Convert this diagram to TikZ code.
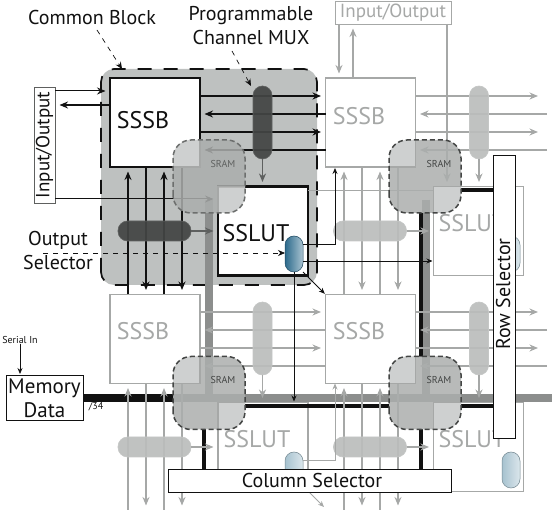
\documentclass[tikz,border=0pt]{standalone}
\usepackage{fontspec}
\setmainfont{PT Sans}
\usepackage{xcolor}
\usetikzlibrary{arrows.meta,positioning,calc}
\definecolor{tinta}{HTML}{111111}
\definecolor{gris}{HTML}{A6A8A7}
\definecolor{grisbus}{HTML}{8C8E8D}
\definecolor{fondo}{HTML}{BEC1C0}
\definecolor{memoria}{HTML}{ABAEAD}
\definecolor{oscuro}{HTML}{434544}
\definecolor{medio}{HTML}{5E605F}
\definecolor{claro}{HTML}{BBBDBC}
\definecolor{azuloscuro}{HTML}{2C6A8C}
\definecolor{azulclaro}{HTML}{A6C2CF}
\begin{document}
\begin{tikzpicture}[x=1pt,y=-1pt,inner sep=0pt,outer sep=0pt,
  bloque/.style={draw=#1,fill=white,line width=1.7pt,minimum width=90pt,minimum height=89pt},
  sram/.style={fill=memoria,fill opacity=.85,rounded corners=18pt,minimum width=72pt,minimum height=73pt},
  borde/.style={draw=#1,line width=1.5pt,dash pattern=on 5pt off 3pt,rounded corners=18pt},
  esquina/.style={fill=white,fill opacity=.33,draw=gris,line width=1.5pt},
  pastilla/.style={fill=#1,draw=#1!85!white,line width=.6pt,fill opacity=.93,minimum width=19pt,minimum height=73pt,rounded corners=9.5pt},
  pastillah/.style={fill=#1,draw=#1!85!white,line width=.6pt,fill opacity=.93,minimum width=73pt,minimum height=20pt,rounded corners=9.5pt},
  azul/.style={draw=#1!70!black,left color=#1,right color=#1!40!white,minimum width=18pt,minimum height=36pt,rounded corners=9pt,line width=.5pt},
  caja/.style={draw=tinta,fill=white,line width=.9pt},
  flecha/.style={-{Stealth[length=8.5pt,width=7pt]},line width=1.5pt,#1,shorten >=4.5pt},
  flecha/.default=tinta,
  fina/.style={-{Stealth[length=6pt,width=5pt]},line width=.8pt,tinta,shorten >=1pt},
  rayas/.style={-{Stealth[length=7pt,width=6pt]},line width=.7pt,tinta,dash pattern=on 5pt off 5pt},
  bus/.style={line width=7.5pt,#1},
  txtg/.style={font=\fontsize{24}{26}\selectfont,text=#1},
  txtm/.style={font=\fontsize{20}{24}\selectfont,text=#1,align=center},
  txtm/.default=tinta,
  txts/.style={font=\fontsize{10}{12}\selectfont,text=#1},
  txts/.default=tinta]
\useasboundingbox (0,0) rectangle (552,510);
% filas y columnas de los canales
\coordinate (f1) at (0,96); \coordinate (f2) at (0,114); \coordinate (f3) at (0,132); \coordinate (f4) at (0,150);
\coordinate (f5) at (0,312); \coordinate (f6) at (0,330); \coordinate (f7) at (0,348); \coordinate (f8) at (0,366);
\coordinate (c1) at (128,0); \coordinate (c2) at (146,0); \coordinate (c3) at (164,0); \coordinate (c4) at (182,0);
\coordinate (c5) at (344,0); \coordinate (c6) at (362,0); \coordinate (c7) at (380,0); \coordinate (c8) at (398,0);
\coordinate (fin) at (542.5,510); \coordinate (finf) at (547,510);
\coordinate (dsal) at (43,253); \coordinate (sal1) at (335,244); \coordinate (sal2) at (335,460);
\coordinate (dg1) at (309,492); \coordinate (dg2) at (324,507);
\coordinate (bfin) at (552,398);
% bloque comun
\node[fill=fondo,rounded corners=13pt,minimum width=216pt,minimum height=216pt] (comun) at (209,177) {};
\draw[line width=1.7pt,tinta,dash pattern=on 14pt off 12pt,rounded corners=13pt] (comun.south west) rectangle (comun.north east);
% cajas
\node[bloque=tinta,line width=2pt] (b1) at (155,122.5) {};
\node[bloque=gris] (b2) at (370.5,122.5) {};
\node[bloque=gris] (b3) at (155,339) {};
\node[bloque=gris] (b4) at (370.5,339) {};
\node[bloque=tinta,line width=2.2pt] (l1) at (263,231) {};
\node[bloque=gris] (l2) at (478.5,231) {};
\node[bloque=gris] (l3) at (263,447) {};
\node[bloque=gris] (l4) at (478.5,447) {};
\node[txtg=tinta] (tb1) at (143,120) {SSSB};
\node[txtg=gris] (tb2) at (359,116) {SSSB};
\node[txtg=gris] (tb3) at (143,331) {SSSB};
\node[txtg=gris] (tb4) at (359,331) {SSSB};
\node[txtg=tinta] (tl1) at (256,233) {SSLUT};
\node[txtg=gris] (tl2) at (472,223) {SSLUT};
\node[txtg=gris] (tl3) at (257,439) {SSLUT};
\node[txtg=gris] (tl4) at (472,439) {SSLUT};
% buses
\node[caja] (mem) at (44.5,397.5) [minimum width=77pt,minimum height=45pt] {};
\node[caja] (es1) at (44.5,145) [minimum width=21pt,minimum height=116pt,draw=medio] {};
\node[caja,draw=gris] (es2) at (393,12.5) [minimum width=116pt,minimum height=23pt] {};
\draw[bus=tinta] (mem.east |- bfin) -- (173,398);
\draw[bus=grisbus] (173,398) -- (bfin);
\draw[bus=grisbus] (209,200) -- (209,398);
\draw[bus=grisbus] (426,200) -- (426,398);
\draw[line width=3.6pt,tinta] (421,213) -- (421,357);
\draw[line width=3.6pt,tinta] (421,429) -- (421,469);
\draw[line width=3.6pt,tinta] (204,429) -- (204,469);
\draw[line width=3.6pt,tinta] (461,190) -- (493,190);
\draw[line width=3.6pt,tinta] (245,406) -- (389,406);
\draw[line width=3.6pt,tinta] (461,406) -- (493,406);
\draw[line width=1pt,gris] (l1.east |- 0,191) -- (l2.west |- 0,191);
% canales horizontales
\draw[flecha] (b1.east |- f1) -- (b2.west |- f1);
\draw[flecha] (b2.west |- f2) -- (b1.east |- f2);
\draw[flecha] (b1.east |- f3) -- (b2.west |- f3);
\draw[flecha] (b2.west |- f4) -- (b1.east |- f4);
\draw[flecha=gris] (b2.east |- f1) -- (fin |- f1);
\draw[flecha=gris] (finf |- f2) -- (b2.east |- f2);
\draw[flecha=gris] (b2.east |- f3) -- (fin |- f3);
\draw[flecha=gris] (finf |- f4) -- (b2.east |- f4);
\draw[flecha=gris] (b3.east |- f5) -- (b4.west |- f5);
\draw[flecha=gris] (b4.west |- f6) -- (b3.east |- f6);
\draw[flecha=gris] (b3.east |- f7) -- (b4.west |- f7);
\draw[flecha=gris] (b4.west |- f8) -- (b3.east |- f8);
\draw[flecha=gris] (b4.east |- f5) -- (fin |- f5);
\draw[flecha=gris] (finf |- f6) -- (b4.east |- f6);
\draw[flecha=gris] (b4.east |- f7) -- (fin |- f7);
\draw[flecha=gris] (finf |- f8) -- (b4.east |- f8);
% canales verticales
\draw[flecha] (b3.north -| c1) -- (b1.south -| c1);
\draw[flecha] (b1.south -| c2) -- (b3.north -| c2);
\draw[flecha] (b3.north -| c3) -- (b1.south -| c3);
\draw[flecha] (b1.south -| c4) -- (b3.north -| c4);
\draw[flecha=gris] (b4.north -| c5) -- (b2.south -| c5);
\draw[flecha=gris] (b2.south -| c6) -- (b4.north -| c6);
\draw[flecha=gris] (b4.north -| c7) -- (b2.south -| c7);
\draw[flecha=gris] (b2.south -| c8) -- (b4.north -| c8);
\draw[flecha=gris] (c1 |- fin) -- (b3.south -| c1);
\draw[flecha=gris] (b3.south -| c2) -- (c2 |- fin);
\draw[flecha=gris] (c3 |- fin) -- (b3.south -| c3);
\draw[flecha=gris] (b3.south -| c4) -- (c4 |- fin);
\draw[flecha=gris] (c5 |- fin) -- (b4.south -| c5);
\draw[flecha=gris] (b4.south -| c6) -- (c6 |- fin);
\draw[flecha=gris] (c7 |- fin) -- (b4.south -| c7);
\draw[flecha=gris] (b4.south -| c8) -- (c8 |- fin);
% entradas y salidas
\draw[flecha,line width=1pt] (es1.east |- 0,91) -- (b1.west |- 0,91);
\draw[flecha] (b1.west |- 0,105) -- (es1.east |- 0,105);
\draw[flecha,line width=1pt] (es1.east |- 0,199) -- (l1.west |- 0,199);
\draw[flecha=gris] (es2.south -| 339,0) -- (b2.north -| 339,0);
\draw[flecha=gris] (b2.north -| 353,0) -- (es2.south -| 353,0);
\draw[flecha=gris] (es2.south -| 447,0) -- (l2.north -| 447,0);
% pastillas
\node[pastilla=oscuro] (m1) at (262.5,122.5) {};
\node[pastilla=claro] (m2) at (479,122.5) {};
\node[pastilla=claro] (m3) at (262.5,338.5) {};
\node[pastilla=claro] (m4) at (479,338.5) {};
\node[pastillah=oscuro] (o1) at (154.5,231) {};
\node[pastillah=claro] (o2) at (370,231) {};
\node[pastillah=claro] (o3) at (154.5,447) {};
\node[pastillah=claro] (o4) at (370,447) {};
\draw[flecha=medio] (m1.south) -- (l1.north -| m1.south);
\draw[flecha=gris] (m2.south) -- (l2.north -| m2.south);
\draw[flecha=gris] (m3.south) -- (l3.north -| m3.south);
\draw[flecha=gris] (m4.south) -- (l4.north -| m4.south);
\draw[flecha=medio] (o1.east) -- (l1.west |- o1.east);
\draw[flecha=gris] (o2.east) -- (l2.west |- o2.east);
\draw[flecha=gris] (o3.east) -- (l3.west |- o3.east);
\draw[flecha=gris] (o4.east) -- (l4.west |- o4.east);
\node[azul=azuloscuro] (p1) at (294,254) {};
\node[azul=azulclaro] (p2) at (511,254) {};
\node[azul=azulclaro] (p3) at (294,470) {};
\node[azul=azulclaro] (p4) at (511,470) {};
% salidas del selector
\draw[fina] (p1.east |- sal1) -- (sal1) -- (b2.south -| sal1);
\draw[fina] (p1.east |- 0,261) -- (l2.west |- 0,261);
\draw[fina] (p1.south) -- (l3.north -| p1.south);
\draw[fina] (p1.south east) -- (b4.north west);
\draw[rayas] (dsal) -- (p1.west |- dsal);
\draw[line width=.8pt,gris,-{Stealth[length=6pt,width=5pt]}] (p3.east |- sal2) -- (sal2) -- (b4.south -| sal2);
\draw[line width=.8pt,gris,-{Stealth[length=6pt,width=5pt]}] (dg1) -- (dg2);
% memorias
\node[sram] (s1) at (209,176.5) {};
\node[sram] (s2) at (425,176.5) {};
\node[sram] (s3) at (209,393) {};
\node[sram] (s4) at (425,393) {};
\begin{scope}
\clip[rounded corners=18pt] (s1.south west) rectangle (s1.north east);
\draw[esquina] (b1.south west) rectangle (b1.north east);
\draw[esquina] (l1.south west) rectangle (l1.north east);
\end{scope}
\begin{scope}
\clip[rounded corners=18pt] (s2.south west) rectangle (s2.north east);
\draw[esquina] (b2.south west) rectangle (b2.north east);
\draw[esquina] (l2.south west) rectangle (l2.north east);
\end{scope}
\begin{scope}
\clip[rounded corners=18pt] (s3.south west) rectangle (s3.north east);
\draw[esquina] (b3.south west) rectangle (b3.north east);
\draw[esquina] (l3.south west) rectangle (l3.north east);
\end{scope}
\begin{scope}
\clip[rounded corners=18pt] (s4.south west) rectangle (s4.north east);
\draw[esquina] (b4.south west) rectangle (b4.north east);
\draw[esquina] (l4.south west) rectangle (l4.north east);
\end{scope}
\draw[borde=medio!80!gris] (s1.south west) rectangle (s1.north east);
\draw[borde=oscuro] (s2.south west) rectangle (s2.north east);
\draw[borde=oscuro] (s3.south west) rectangle (s3.north east);
\draw[borde=oscuro] (s4.south west) rectangle (s4.north east);
\node[txts=medio] (ts1) at (223,164) {SRAM};
\node[txts=oscuro] (ts2) at (439,164) {SRAM};
\node[txts=oscuro] (ts3) at (223,380) {SRAM};
\node[txts=oscuro] (ts4) at (439,380) {SRAM};
% selectores
\node[caja] (fila) at (504,296.5) [minimum width=22pt,minimum height=283pt] {};
\node[caja] (colu) at (309.5,480.5) [minimum width=283pt,minimum height=23pt] {};
\node[txtm,rotate=90] (tfila) at (503,294) {Row Selector};
\node[txtm] (tcolu) at (312,481) {Column Selector};
% textos
\node[txtm,rotate=90,font=\fontsize{19}{22}\selectfont] (tes1) at (44.5,145) {Input/Output};
\node[txtm=gris,font=\fontsize{19}{22}\selectfont] (tes2) at (393,13) {Input/Output};
\node[txtm,font=\fontsize{21}{24}\selectfont] (tmem) at (44.5,398) {Memory\\Data};
\node[txts] (tser) at (20,340) {Serial In};
\draw[fina] (tser.south) -- (mem.north -| tser.south);
\node[txts] (t34) at (96,407) {/34};
\node[txtm] (tcomun) at (92,18) {Common Block};
\node[txtm] (tprog) at (251,26) {Programmable\\Channel MUX};
\node[txtm] (tsel) at (58,251) {Output\\Selector};
\draw[rayas] (97,30) -- (comun.north west -| 122,0);
\draw[rayas] (232,51) -- (m1.north -| 251,0);
\end{tikzpicture}
\end{document}
